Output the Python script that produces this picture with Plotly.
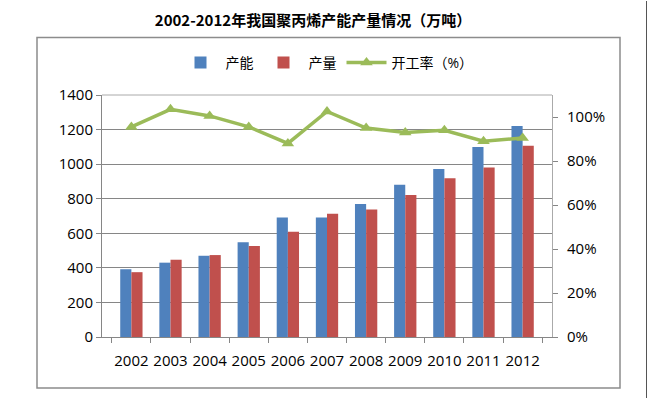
import plotly.graph_objects as go

years = ["2002", "2003", "2004", "2005", "2006", "2007", "2008", "2009", "2010", "2011", "2012"]
capacity = [392, 430, 470, 548, 692, 692, 769, 881, 972, 1099, 1220]
output = [375, 447, 474, 526, 609, 713, 738, 821, 918, 981, 1106]
utilization = [0.955, 1.035, 1.005, 0.955, 0.88, 1.025, 0.95, 0.93, 0.94, 0.89, 0.905]

W, H = 648, 399
L, R, T, B = 102, 96, 95, 62
pw, ph = W - L - R, H - T - B

def px(x):
    return (x - L) / pw

def py(y):
    return (H - B - y) / ph

font_fam = "Open Sans, Noto Sans CJK SC, sans-serif"

fig = go.Figure()
fig.add_trace(go.Bar(x=years, y=capacity, name="产能", marker=dict(color="#4F81BD", line=dict(width=0)), yaxis="y"))
fig.add_trace(go.Bar(x=years, y=output, name="产量", marker=dict(color="#C0504D", line=dict(width=0)), yaxis="y"))
fig.add_trace(go.Scatter(x=years, y=utilization, name="开工率（%）", mode="lines+markers",
                         line=dict(color="#9BBB59", width=3.5),
                         marker=dict(symbol="triangle-up", size=11, color="#9BBB59"),
                         yaxis="y2"))

fig.update_layout(
    width=W, height=H,
    margin=dict(l=L, r=R, t=T, b=B, autoexpand=False),
    paper_bgcolor="white", plot_bgcolor="white",
    font=dict(family=font_fam, size=15, color="#000000"),
    barmode="group", bargap=0.43, bargroupgap=0,
    showlegend=True,
    title=dict(text="<b>2002-2012年我国聚丙烯产能产量情况（万吨）</b>",
               font=dict(family="Noto Sans CJK SC, sans-serif", size=15, color="#000"),
               x=313 / W, xanchor="center", y=1 - 21 / H, yanchor="middle"),
    legend=dict(orientation="h", x=0.5, xanchor="center", y=py(63), yanchor="middle",
                font=dict(size=14, family=font_fam), bgcolor="rgba(0,0,0,0)", traceorder="normal",
                itemwidth=40),
    xaxis=dict(type="category", showline=True, linecolor="#868686", linewidth=1,
               ticks="outside", ticklen=5, tickcolor="#868686", tickson="boundaries",
               showgrid=False, ticklabelstandoff=10, tickangle=0, tickfont=dict(size=15)),
    yaxis=dict(range=[0, 1400], dtick=200, showline=True, linecolor="#868686", linewidth=1,
               ticks="outside", ticklen=5, tickcolor="#868686",
               showgrid=True, gridcolor="#868686", gridwidth=1, zeroline=False,
               tickfont=dict(size=15)),
    yaxis2=dict(range=[0, 1.1], tickvals=[0, 0.2, 0.4, 0.6, 0.8, 1.0], tickformat=".0%",
                overlaying="y", side="right", showline=True, linecolor="#AAAAAA", linewidth=1,
                ticks="outside", ticklen=5, tickcolor="#868686", showgrid=False, zeroline=False,
                ticklabelstandoff=6, tickfont=dict(size=15)),
    shapes=[
        dict(type="rect", xref="paper", yref="paper", x0=px(37), x1=px(620), y0=py(388), y1=py(37.5),
             line=dict(color="#8C8C8C", width=1.5), fillcolor="rgba(0,0,0,0)", layer="below"),
        dict(type="line", xref="paper", yref="paper", x0=0, x1=1, y0=1, y1=1,
             line=dict(color="#AAAAAA", width=1)),
        dict(type="line", xref="paper", yref="paper", x0=px(646.5), x1=px(646.5), y0=py(398), y1=py(1),
             line=dict(color="#555555", width=1)),
    ],
)

fig.write_html("out.html", config={"displayModeBar": False},
               post_script="document.body.style.margin='0px';")
